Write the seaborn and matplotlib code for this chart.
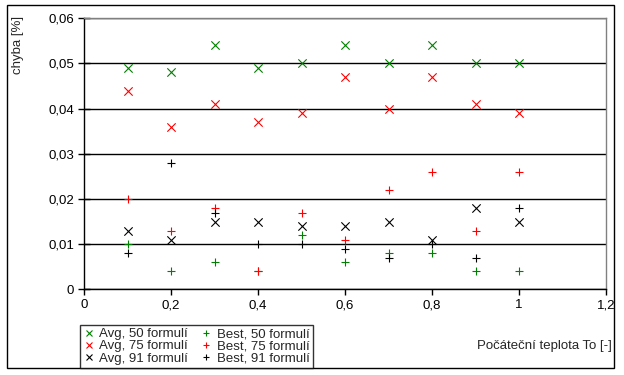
import matplotlib
matplotlib.use("Agg")
import matplotlib.pyplot as plt
import seaborn as sns
import pandas as pd
from matplotlib.lines import Line2D
from matplotlib.patches import Rectangle

sns.set_style("white")
plt.rcParams['font.family'] = ['Liberation Sans', 'DejaVu Sans']

temps = [0.1, 0.2, 0.3, 0.4, 0.5, 0.6, 0.7, 0.8, 0.9, 1.0]
avg_50 = [0.049, 0.048, 0.054, 0.049, 0.050, 0.054, 0.050, 0.054, 0.050, 0.050]
avg_75 = [0.044, 0.036, 0.041, 0.037, 0.039, 0.047, 0.040, 0.047, 0.041, 0.039]
avg_91 = [0.013, 0.011, 0.015, 0.015, 0.014, 0.014, 0.015, 0.011, 0.018, 0.015]
best_50 = [0.010, 0.004, 0.006, 0.004, 0.012, 0.006, 0.008, 0.008, 0.004, 0.004]
best_75 = [0.020, 0.013, 0.018, 0.004, 0.017, 0.011, 0.022, 0.026, 0.013, 0.026]
best_91 = [0.008, 0.028, 0.017, 0.010, 0.010, 0.009, 0.007, 0.010, 0.007, 0.018]

series_names = ["Avg, 50 formulí", "Avg, 75 formulí", "Avg, 91 formulí",
                "Best, 50 formulí", "Best, 75 formulí", "Best, 91 formulí"]
series_values = [avg_50, avg_75, avg_91, best_50, best_75, best_91]
series_colors = ["#008000", "#FF0000", "#000000", "#008000", "#FF0000", "#000000"]
series_markers = ["x", "x", "x", "+", "+", "+"]

x_ticks = [0, 0.2, 0.4, 0.6, 0.8, 1.0, 1.2]
x_tick_labels = ["0", "0,2", "0,4", "0,6", "0,8", "1", "1,2"]
y_ticks = [0, 0.01, 0.02, 0.03, 0.04, 0.05, 0.06]
y_tick_labels = ["0", "0,01", "0,02", "0,03", "0,04", "0,05", "0,06"]

x_title = "Počáteční teplota To [-]"
y_title = "chyba [%]"

FS = 9.5
W, H = 624, 375
fig = plt.figure(figsize=(W / 100, H / 100), dpi=100)
fig.patch.set_facecolor("white")

# outer chart frame
fig.patches.append(Rectangle((7 / W, (H - 368) / H), 607 / W, 363 / H,
                             transform=fig.transFigure, fill=False,
                             edgecolor="black", linewidth=1.0, zorder=0))

ax = fig.add_axes([84 / W, (H - 289.3) / H, 522 / W, 271 / H])
ax.set_facecolor("white")

rows = []
for name, vals in zip(series_names, series_values):
    for t, v in zip(temps, vals):
        rows.append({"T": t, "err": v, "series": name})
df = pd.DataFrame(rows)

for name, col, mk in zip(series_names, series_colors, series_markers):
    sub = df[df["series"] == name]
    sns.scatterplot(data=sub, x="T", y="err", ax=ax, marker=mk, color=col,
                    s=36, linewidth=0.8, legend=False, zorder=3)

ax.set_xlim(0, 1.2)
ax.set_ylim(0, 0.06)
ax.set_xticks(x_ticks)
ax.set_xticklabels(x_tick_labels)
ax.set_yticks(y_ticks)
ax.set_yticklabels(y_tick_labels)
ax.set_xlabel("")
ax.set_ylabel("")

ax.yaxis.grid(True, color="black", linewidth=1.0)
ax.xaxis.grid(False)
ax.set_axisbelow(True)

for side in ["left", "bottom"]:
    ax.spines[side].set_color("black")
    ax.spines[side].set_linewidth(1.0)
for side in ["top", "right"]:
    ax.spines[side].set_color("#808080")
    ax.spines[side].set_linewidth(1.0)

ax.tick_params(axis="y", direction="inout", length=8, width=1, colors="black",
               labelsize=FS, pad=3, left=True)
ax.tick_params(axis="x", direction="out", length=4, width=1, colors="black",
               labelsize=FS, pad=3, bottom=True)

fig.text(18 / W, 1 - 45 / H, y_title, rotation=90, ha="center", va="center",
         fontsize=FS)
fig.text(612 / W, 1 - 346 / H, x_title, ha="right", va="center", fontsize=FS)

handles = [Line2D([], [], linestyle="none", marker=mk, color=col,
                  markersize=5, markeredgewidth=0.8)
           for col, mk in zip(series_colors, series_markers)]
leg = fig.legend(handles, series_names, ncol=2, loc="lower left",
                 bbox_to_anchor=(80 / W, (H - 368) / H),
                 fontsize=FS, frameon=True, fancybox=False,
                 handlelength=0.8, handletextpad=0.4, columnspacing=1.0,
                 labelspacing=0.0, borderpad=0.25, borderaxespad=0)
leg.get_frame().set_edgecolor("black")
leg.get_frame().set_linewidth(1.0)

fig.savefig("out.png", dpi=100, facecolor="white")
